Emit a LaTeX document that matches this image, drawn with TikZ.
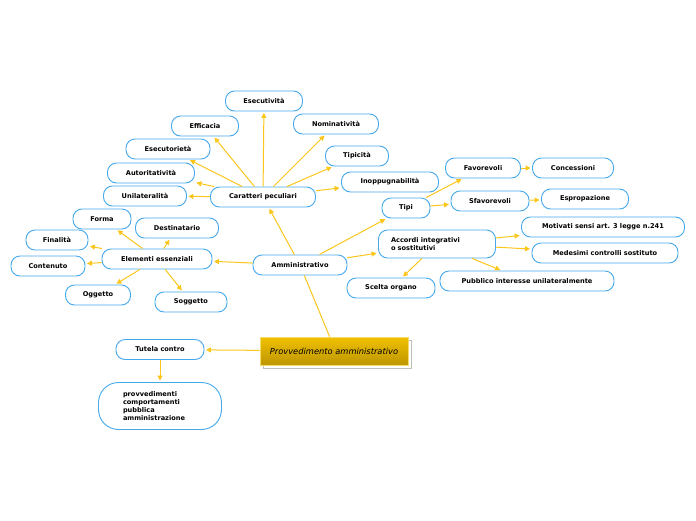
\documentclass[tikz,border=0pt]{standalone}
\usepackage{fontspec}
\setmainfont{DejaVu Sans}
\usetikzlibrary{arrows.meta, shadows}

\definecolor{mapblue}{HTML}{45A9EC}
\definecolor{mapyellow}{HTML}{FAC61C}
\definecolor{goldtop}{HTML}{F0C000}
\definecolor{goldbot}{HTML}{BE9600}
\definecolor{goldrim}{HTML}{F6DB6A}

\begin{document}
\begin{tikzpicture}[x=1pt, y=-1pt,
      topic/.style={draw=mapblue, line width=0.9pt, rounded corners=9pt,
                    fill=white, minimum height=20pt, inner xsep=3pt,
                    align=center, font=\fontsize{6.6}{8}\selectfont\bfseries},
      main/.style={draw=goldrim, line width=0.8pt, top color=goldtop,
                   bottom color=goldbot, minimum width=148pt, minimum height=28pt,
                   font=\fontsize{8.3}{10}\selectfont\itshape,
                   copy shadow={shadow xshift=3pt, shadow yshift=-3pt,
                                fill=white, draw=black!25, line width=0.8pt}},
      link/.style={draw=mapyellow, line width=1pt,
                   -{Triangle[length=5pt, width=5pt]}, shorten >=1.5pt},
      plain/.style={draw=mapyellow, line width=1pt}
    ]
    \useasboundingbox (0,0) rectangle (696,520);

    % central topic
    \node[main] (prov) at (334,351) {Provvedimento amministrativo};
    \node[topic, minimum width=94pt] (amm) at (300,265) {Amministrativo};
    \node[topic, minimum width=88pt] (tut) at (160,349.5) {Tutela contro};
    \node[topic, minimum width=123pt, minimum height=47pt, rounded corners=20pt,
          text width=74pt, align=left, xshift=3pt] (pa) at (157,406)
          {provvedimenti\\comportamenti\\pubblica\\amministrazione};

    % caratteri peculiari
    \node[topic, minimum width=105pt] (car) at (263,197) {Caratteri peculiari};
    \node[topic, minimum width=77pt]  (esv) at (264,101) {Esecutività};
    \node[topic, minimum width=67pt]  (eff) at (205,126) {Efficacia};
    \node[topic, minimum width=85pt]  (nom) at (336,124) {Nominatività};
    \node[topic, minimum width=84pt]  (eso) at (168,149) {Esecutorietà};
    \node[topic, minimum width=63pt]  (tip) at (357,156) {Tipicità};
    \node[topic, minimum width=87pt]  (aut) at (151,173) {Autoritatività};
    \node[topic, minimum width=97pt]  (ino) at (390,182) {Inoppugnabilità};
    \node[topic, minimum width=83pt]  (uni) at (145,196) {Unilateralità};

    % elementi essenziali
    \node[topic, minimum width=110pt] (ele) at (157,259) {Elementi essenziali};
    \node[topic, minimum width=58pt]  (for) at (102,219) {Forma};
    \node[topic, minimum width=83pt]  (des) at (177,228) {Destinatario};
    \node[topic, minimum width=62pt]  (fin) at (57,240)  {Finalità};
    \node[topic, minimum width=74pt]  (con) at (48,266)  {Contenuto};
    \node[topic, minimum width=65pt]  (ogg) at (98,295)  {Oggetto};
    \node[topic, minimum width=72pt]  (sog) at (191,302) {Soggetto};

    % tipi
    \node[topic, minimum width=48pt]  (tipi) at (406,208) {Tipi};
    \node[topic, minimum width=75pt]  (fav)  at (483,168) {Favorevoli};
    \node[topic, minimum width=81pt]  (conc) at (573,168) {Concessioni};
    \node[topic, minimum width=78pt]  (sfa)  at (490,201) {Sfavorevoli};
    \node[topic, minimum width=87pt]  (esp)  at (585,199) {Espropazione};

    % accordi
    \node[topic, minimum width=117pt, minimum height=28pt, text width=92pt,
          align=left, xshift=2pt] (acc) at (435,244)
          {Accordi integrativi\\o sostitutivi};
    \node[topic, minimum width=163pt] (mot) at (603,227) {Motivati sensi art. 3 legge n.241};
    \node[topic, minimum width=146pt] (med) at (605,253) {Medesimi controlli sostituto};
    \node[topic, minimum width=174pt] (pub) at (527,281) {Pubblico interesse unilateralmente};
    \node[topic, minimum width=88pt]  (sce) at (391,288) {Scelta organo};

    % connectors
    \draw[plain] (prov.north west) ++(70,0) coordinate (pt) -- (amm);
    \draw[link] (prov) -- (tut);
    \draw[link] (tut) -- (pa);
    \draw[link] (amm) -- (car);
    \draw[link] (amm) -- (ele);
    \draw[link] (amm) -- (tipi);
    \draw[link] (amm) -- (acc);

    \draw[link] (car) -- (esv);
    \draw[link] (car) -- (eff);
    \draw[link] (car) -- (nom);
    \draw[link] (car) -- (eso);
    \draw[link] (car) -- (tip);
    \draw[link] (car) -- (aut);
    \draw[link] (car) -- (ino);
    \draw[link] (car) -- (uni);

    \draw[link] (ele) -- (for);
    \draw[link] (ele) -- (des);
    \draw[link] (ele) -- (fin);
    \draw[link] (ele) -- (con);
    \draw[link] (ele) -- (ogg);
    \draw[link] (ele) -- (sog);

    \draw[link] (tipi) -- (fav);
    \draw[link] (tipi) -- (sfa);
    \draw[link] (fav) -- (conc);
    \draw[link] (sfa) -- (esp);

    \draw[link] (acc) -- (mot);
    \draw[link] (acc) -- (med);
    \draw[link] (acc) -- (pub);
    \draw[link] (acc) -- (sce);
  \end{tikzpicture}
\end{document}
